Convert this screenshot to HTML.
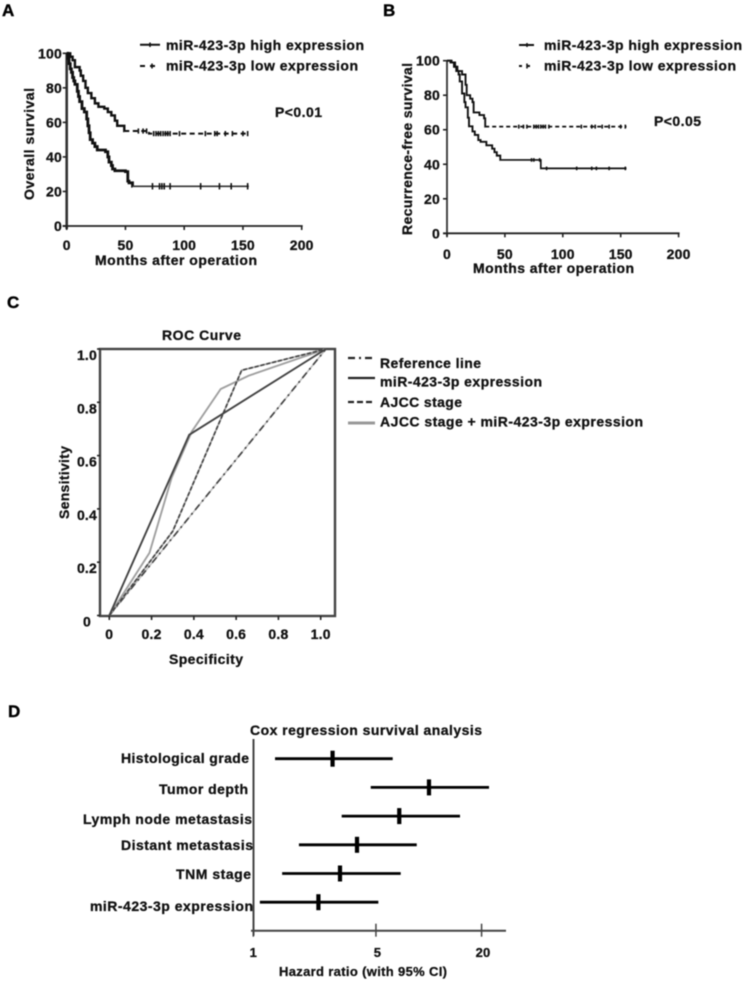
<!DOCTYPE html>
<html lang="en">
<head>
<meta charset="utf-8">
<title>miR-423-3p survival, ROC and Cox regression figure</title>
<style>
  html, body { margin: 0; padding: 0; background: #fff; }
  #figure { display: block; filter: blur(0.55px); }
  text { font-family: "Liberation Sans", sans-serif; font-weight: bold; font-size: 14px; fill: #111; stroke: #111; stroke-width: 0.3px; }
  .letter { font-size: 17px; fill: #000; stroke: #000; stroke-width: 0.4px; }
</style>
</head>
<body>
<svg id="figure" xmlns="http://www.w3.org/2000/svg" width="744" height="982" viewBox="0 0 744 982">
  <rect x="0" y="0" width="744" height="982" fill="#fff"/>

  <!-- Panel A static text -->
  <g id="panelA">
    <text class="letter" x="2" y="16">A</text>
    <line x1="140" y1="44.7" x2="160" y2="44.7" stroke="#111" stroke-width="2"/>
    <line x1="150" y1="42.5" x2="150" y2="47" stroke="#111" stroke-width="1.5"/>
    <text x="166" y="50" textLength="198">miR-423-3p high expression</text>
    <line x1="140" y1="66" x2="160" y2="66" stroke="#111" stroke-width="2" stroke-dasharray="5 5"/>
    <line x1="152" y1="63.5" x2="152" y2="68.5" stroke="#111" stroke-width="1.5"/>
    <text x="166" y="70.5" textLength="192">miR-423-3p low expression</text>
    <text x="275" y="117" textLength="47">P&lt;0.01</text>
    <text x="95" y="265" textLength="162">Months after operation</text>
    <text transform="translate(34 200) rotate(-90)" x="0" y="0" textLength="112">Overall survival</text>
  </g>

  <!-- Panel B static text -->
  <g id="panelB">
    <text class="letter" x="383" y="16">B</text>
    <line x1="519" y1="45" x2="534" y2="45" stroke="#111" stroke-width="2"/>
    <line x1="527" y1="43" x2="527" y2="47" stroke="#111" stroke-width="1.5"/>
    <text x="544" y="50" textLength="198">miR-423-3p high expression</text>
    <line x1="519" y1="66" x2="534" y2="66" stroke="#111" stroke-width="2" stroke-dasharray="3 5"/>
    <line x1="527" y1="63.5" x2="527" y2="68.5" stroke="#111" stroke-width="1.5"/>
    <text x="544" y="70.5" textLength="192">miR-423-3p low expression</text>
    <text x="654" y="126" textLength="47">P&lt;0.05</text>
    <text x="473" y="273" textLength="161">Months after operation</text>
    <text transform="translate(412 235) rotate(-90)" x="0" y="0" textLength="172">Recurrence-free survival</text>
  </g>

  <!-- Panel C static text -->
  <g id="panelC">
    <text class="letter" x="7" y="308">C</text>
    <text x="162" y="340" textLength="79">ROC Curve</text>
    <text x="169" y="664" textLength="74">Specificity</text>
    <text transform="translate(69 519) rotate(-90)" x="0" y="0" textLength="73">Sensitivity</text>
    <line x1="348" y1="358" x2="375" y2="358" stroke="#222" stroke-width="2.2" stroke-dasharray="7 4 2 4"/>
    <text x="380" y="368" textLength="101">Reference line</text>
    <line x1="348" y1="378" x2="375" y2="378" stroke="#222" stroke-width="2.2"/>
    <text x="380" y="386.7" textLength="162">miR-423-3p expression</text>
    <line x1="348" y1="402" x2="375" y2="402" stroke="#222" stroke-width="2.2" stroke-dasharray="6 3"/>
    <text x="380" y="407" textLength="82">AJCC stage</text>
    <line x1="348" y1="423" x2="375" y2="423" stroke="#999" stroke-width="3"/>
    <text x="380" y="426.7" textLength="263">AJCC stage + miR-423-3p expression</text>
  </g>

  <!-- Panel D static text -->
  <g id="panelD">
    <text class="letter" x="8" y="717">D</text>
    <text x="250" y="735" textLength="232">Cox regression survival analysis</text>
    <text x="121" y="763" textLength="128">Histological grade</text>
    <text x="159" y="794" textLength="89">Tumor depth</text>
    <text x="83" y="824" textLength="169">Lymph node metastasis</text>
    <text x="121" y="850" textLength="132">Distant metastasis</text>
    <text x="176" y="879" textLength="75">TNM stage</text>
    <text x="90" y="911" textLength="163">miR-423-3p expression</text>
    <text x="279" y="976" textLength="168" style="font-size:13px">Hazard ratio (with 95% CI)</text>
  </g>
</svg>

<script>
// ---- Panel A data ----
const xTickValues = [0, 50, 100, 150, 200];
const yTickValues = [0, 20, 40, 60, 80, 100];
const aHighMonths = [0, 1, 2, 3, 4, 5, 6, 7, 9, 10, 11, 13, 15, 17, 18, 19, 20, 22, 24, 26, 33, 35, 36, 38, 39, 41, 50, 52, 53, 56];
const aHighSurvival = [100, 97, 94, 91, 89, 86, 84, 82, 78, 75, 72, 68, 66, 62, 58, 54, 50, 48, 46, 44, 43, 40, 37, 35, 33, 32, 31.5, 26, 25, 23];
const aHighCensor = [73, 79, 81, 83, 88, 114, 130, 140, 154];
const aHighEnd = 155;
const aHighPlateauFrom = 56;
const aLowMonths = [0, 3, 5, 7, 11, 12, 14, 16, 18, 21, 24, 27, 32, 35, 38, 41, 43, 47, 49, 70];
const aLowSurvival = [100, 98, 96, 92, 90, 87, 84, 80, 77, 74, 71, 69, 68, 66, 64, 61, 58, 58, 55, 53.5];
const aLowCensor = [61, 65, 68, 74, 76, 78, 80, 82, 84, 86, 88, 96, 118, 126, 128, 135, 141, 150, 154];
const aLowEnd = 155;
const aLowPlateauFrom = 49;

// ---- Panel B data ----
const bHighMonths = [0, 3, 6, 8, 10, 11, 13, 15, 16, 18, 19, 22, 24, 27, 29, 34, 39, 41, 43, 46, 81];
const bHighSurvival = [100, 99, 96.5, 94, 92, 88, 81, 76, 73, 67, 62, 59, 57, 54, 53, 51, 49, 47, 45, 42.5, 37.6];
const bHighCensor = [73, 75, 80, 86, 112, 125, 129, 140, 154];
const bHighEnd = 155;
const bHighPlateauFrom = 46;
const bLowMonths = [0, 4, 7, 9, 13, 16, 17, 20, 22, 23, 28, 32, 33];
const bLowSurvival = [100, 99, 96.5, 94, 92, 86, 80, 78, 76, 70, 68.5, 66.6, 61.8];
const bLowCensor = [62, 66, 69, 75, 77, 79, 81, 83, 85, 88, 116, 125, 128, 134, 140, 150, 154];
const bLowEnd = 155;
const bLowPlateauFrom = 33;

// ---- Panel C data ----
const rocTickLabels = ['0', '0.2', '0.4', '0.6', '0.8', '1.0'];
const rocTickValues = [0, 0.2, 0.4, 0.6, 0.8, 1.0];
const rocReferenceX = [0, 1.025];
const rocReferenceY = [0, 1];
const rocMirX = [0, 0.378, 1.025];
const rocMirY = [0, 0.678, 1];
const rocAjccX = [0, 0.30, 0.626, 1.025];
const rocAjccY = [0, 0.316, 0.92, 1];
const rocCombinedX = [0, 0.19, 0.295, 0.39, 0.527, 0.66, 1.025];
const rocCombinedY = [0, 0.235, 0.517, 0.69, 0.85, 0.90, 1];

// ---- Panel D data ----
const forestCategories = ['histological-grade', 'tumor-depth', 'lymph-node-metastasis', 'distant-metastasis', 'tnm-stage', 'mir-expression'];
const forestLower = [1.33, 4.67, 3.19, 1.82, 1.46, 1.09];
const forestHazard = [2.83, 10.03, 6.79, 3.90, 3.12, 2.35];
const forestUpper = [6.23, 22.05, 15.07, 8.54, 6.92, 5.16];
const forestTicks = [1, 5, 20];

const NS = 'http://www.w3.org/2000/svg';

function make(parent, tag, attrs, text) {
  const el = document.createElementNS(NS, tag);
  for (const key in attrs) el.setAttribute(key, attrs[key]);
  if (text !== undefined) el.textContent = text;
  parent.appendChild(el);
  return el;
}

function survivalAt(months, survival, t) {
  let value = survival[0];
  for (let i = 0; i < months.length; i++) {
    if (months[i] <= t) value = survival[i];
  }
  return value;
}

function stepPath(months, survival, end, from, to, x, y) {
  let d = '';
  let current = survivalAt(months, survival, from);
  d += 'M' + x(from).toFixed(2) + ' ' + y(current).toFixed(2);
  for (let i = 0; i < months.length; i++) {
    if (months[i] <= from || months[i] >= to) continue;
    d += 'H' + x(months[i]).toFixed(2) + 'V' + y(survival[i]).toFixed(2);
  }
  d += 'H' + x(Math.min(to, end)).toFixed(2);
  return d;
}

function drawCurve(group, prefix, months, survival, censor, end, plateauFrom, x, y, style) {
  const early = make(group, 'path', { d: stepPath(months, survival, end, 0, plateauFrom + 0.01, x, y), fill: 'none', stroke: '#111', 'stroke-width': style.earlyWidth });
  
  
  const late = make(group, 'path', { d: stepPath(months, survival, end, plateauFrom, end, x, y), fill: 'none', stroke: style.lateColor, 'stroke-width': style.lateWidth, 'stroke-dasharray': style.dash });
  
  
  censor.forEach(function (t) {
    const value = survivalAt(months, survival, t);
    const tick = make(group, 'line', { x1: x(t), x2: x(t), y1: y(value) - style.mark, y2: y(value) + style.mark, stroke: '#111', 'stroke-width': 1.6 });
    
    
  });
}

function drawAxes(group, prefix, x, y, bottom, xLabelY, yLabelX, axisWidth) {
  const yAxis = make(group, 'line', { x1: x(0), x2: x(0), y1: y(100), y2: bottom + 3, stroke: '#333', 'stroke-width': axisWidth });
  
  
  const xAxis = make(group, 'line', { x1: x(0) - 4, x2: x(200) + 1, y1: bottom, y2: bottom, stroke: '#222', 'stroke-width': 1.8 });
  
  
  xTickValues.forEach(function (v) {
    const tick = make(group, 'line', { x1: x(v), x2: x(v), y1: bottom, y2: bottom + 4, stroke: '#222', 'stroke-width': 1.6 });
    
    
    const label = make(group, 'text', { x: x(v), y: xLabelY, 'text-anchor': 'middle', 'letter-spacing': '0.2' }, String(v));
    
    
  });
  yTickValues.forEach(function (v) {
    const tick = make(group, 'line', { x1: x(0) - 4, x2: x(0), y1: y(v), y2: y(v), stroke: '#222', 'stroke-width': 1.6 });
    
    
    const label = make(group, 'text', { x: yLabelX, y: y(v) + 5, 'text-anchor': 'end', 'letter-spacing': '0.2' }, String(v));
    
    
  });
}

// Panel A
(function () {
  const group = document.getElementById('panelA');
  const x = function (m) { return 66.7 + m * 1.175; };
  const y = function (s) { return 226 - s * 1.727; };
  drawAxes(group, 'panel-a', x, y, 226, 250, 62, 2.6);
  drawCurve(group, 'panel-a-high', aHighMonths, aHighSurvival, aHighCensor, aHighEnd, aHighPlateauFrom, x, y, { earlyWidth: 2.8, lateWidth: 1.6, lateColor: '#333', dash: 'none', mark: 3.2 });
  drawCurve(group, 'panel-a-low', aLowMonths, aLowSurvival, aLowCensor, aLowEnd, aLowPlateauFrom, x, y, { earlyWidth: 2.4, lateWidth: 2, lateColor: '#111', dash: '5 3.5', mark: 2.6 });
})();

// Panel B
(function () {
  const group = document.getElementById('panelB');
  const x = function (m) { return 447 + m * 1.158; };
  const y = function (s) { return 233.3 - s * 1.726; };
  drawAxes(group, 'panel-b', x, y, 233.3, 259, 440, 1.8);
  drawCurve(group, 'panel-b-high', bHighMonths, bHighSurvival, bHighCensor, bHighEnd, bHighPlateauFrom, x, y, { earlyWidth: 1.9, lateWidth: 1.7, lateColor: '#111', dash: 'none', mark: 1.8 });
  drawCurve(group, 'panel-b-low', bLowMonths, bLowSurvival, bLowCensor, bLowEnd, bLowPlateauFrom, x, y, { earlyWidth: 1.9, lateWidth: 1.7, lateColor: '#111', dash: '4 3', mark: 2 });
})();

// Panel C
(function () {
  const group = document.getElementById('panelC');
  const x = function (v) { return 109.3 + v * 211.4; };
  const y = function (v) { return 615.5 - v * 266.5; };
  const frame = make(group, 'rect', { x: 100, y: 349, width: 235, height: 267, fill: 'none', stroke: '#444', 'stroke-width': 2.4 });
  
  
  rocTickValues.forEach(function (v, i) {
    const xTick = make(group, 'line', { x1: x(v), x2: x(v), y1: 616, y2: 620, stroke: '#222', 'stroke-width': 1.6 });
    
    
    const xLabel = make(group, 'text', { x: x(v), y: 639, 'text-anchor': 'middle', 'letter-spacing': '0.2' }, rocTickLabels[i]);
    
    
    const yTick = make(group, 'line', { x1: 97, x2: 100, y1: y(v), y2: y(v), stroke: '#222', 'stroke-width': 1.6 });
    
    
    const yLabel = make(group, 'text', { x: v === 0 ? 91 : 97, y: y(v) + 11, 'text-anchor': 'end', 'letter-spacing': '0.2' }, rocTickLabels[i]);
    
    
  });
  function pts(xs, ys) {
    return xs.map(function (v, i) { return x(v).toFixed(2) + ',' + y(ys[i]).toFixed(2); }).join(' ');
  }
  const refBase = make(group, 'polyline', { points: pts(rocReferenceX, rocReferenceY), fill: 'none', stroke: '#bbb', 'stroke-width': 1.4 });
  
  
  const ref = make(group, 'polyline', { points: pts(rocReferenceX, rocReferenceY), fill: 'none', stroke: '#444', 'stroke-width': 1.7, 'stroke-dasharray': '7 4 2 4' });
  
  
  const combined = make(group, 'polyline', { points: pts(rocCombinedX, rocCombinedY), fill: 'none', stroke: '#a0a0a0', 'stroke-width': 1.9 });
  
  
  const ajccBase = make(group, 'polyline', { points: pts(rocAjccX, rocAjccY), fill: 'none', stroke: '#999', 'stroke-width': 1.6 });
  
  
  const ajcc = make(group, 'polyline', { points: pts(rocAjccX, rocAjccY), fill: 'none', stroke: '#444', 'stroke-width': 1.7, 'stroke-dasharray': '4 2' });
  
  
  const mir = make(group, 'polyline', { points: pts(rocMirX, rocMirY), fill: 'none', stroke: '#444', 'stroke-width': 1.9 });
  
  
})();

// Panel D
(function () {
  const group = document.getElementById('panelD');
  const x = function (hr) { return 253.3 + Math.log(hr) * 76.2; };
  const rowY = function (i) { return 758.7 + i * 28.7; };
  const axisY = 930.7;
  const yAxis = make(group, 'line', { x1: 253.5, x2: 253.5, y1: 739, y2: axisY + 5, stroke: '#444', 'stroke-width': 2 });
  
  
  const xAxis = make(group, 'line', { x1: 251, x2: 506, y1: axisY, y2: axisY, stroke: '#444', 'stroke-width': 2 });
  
  
  forestTicks.forEach(function (v) {
    const tick = make(group, 'line', { x1: x(v), x2: x(v), y1: axisY - 7, y2: axisY + 6, stroke: '#444', 'stroke-width': 1.5 });
    
    
    const label = make(group, 'text', { x: x(v) + (v === 1 ? 0 : 1.5), y: 957, 'text-anchor': 'middle', style: 'font-size:13px', 'letter-spacing': '0.2' }, String(v));
    
    
  });
  forestCategories.forEach(function (name, i) {
    const ci = make(group, 'line', { x1: x(forestLower[i]), x2: x(forestUpper[i]), y1: rowY(i), y2: rowY(i), stroke: '#000', 'stroke-width': 2.8 });
    
    
    const mark = make(group, 'line', { x1: x(forestHazard[i]), x2: x(forestHazard[i]), y1: rowY(i) - 8, y2: rowY(i) + 8, stroke: '#000', 'stroke-width': 4.2 });
    
    
  });
})();
</script>
</body>
</html>
